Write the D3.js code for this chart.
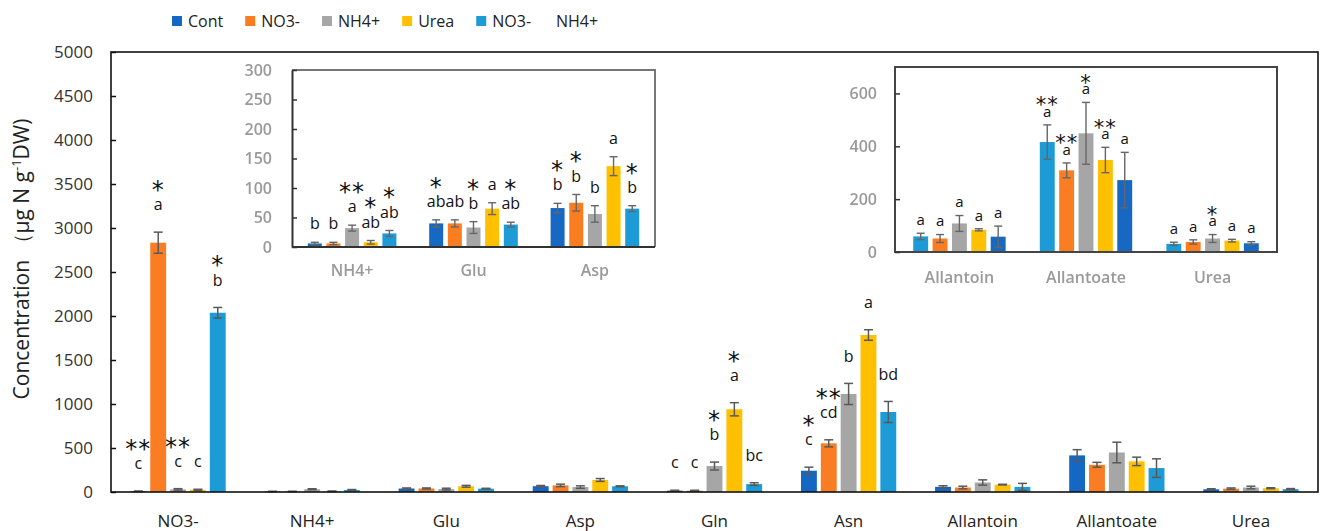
<!DOCTYPE html>
<html>
<head>
<meta charset="utf-8">
<script src="https://cdn.jsdelivr.net/npm/d3@7"></script>
<style>
  body { margin: 0; background: #fff; }
  svg { display: block; font-family: "Open Sans", "Noto Sans", sans-serif; }
</style>
</head>
<body>
<svg id="chart" width="1324" height="531"></svg>
<script>
// ---- data -------------------------------------------------------------
const categories = ["NO3-", "NH4+", "Glu", "Asp", "Gln", "Asn", "Allantoin", "Allantoate", "Urea"];
const legendLabels = ["Cont", "NO3-", "NH4+", "Urea", "NO3-\u00a0\u00a0\u00a0\u00a0\u00a0\u00a0NH4+"];

// mean concentration (µg N g-1 DW) per treatment, in category order
const contVals = [8, 6, 40, 66, 15, 242, 59, 416, 31];
const no3Vals  = [2833, 6, 40, 75, 15, 553, 51, 309, 38];
const nh4Vals  = [30, 32, 33, 56, 295, 1114, 108, 449, 51];
const ureaVals = [25, 8, 65, 137, 940, 1784, 84, 348, 43];
const mixVals  = [2037, 23, 38, 65, 90, 909, 58, 272, 33];

// standard errors
const contErr = [3, 2, 6, 8, 5, 40, 12, 65, 6];
const no3Err  = [120, 2, 6, 14, 5, 40, 15, 28, 8];
const nh4Err  = [8, 5, 10, 14, 45, 120, 30, 117, 15];
const ureaErr = [6, 3, 10, 16, 75, 60, 4, 48, 5];
const mixErr  = [60, 5, 4, 5, 15, 120, 40, 105, 6];

// significance letters and asterisks
const contLetters = ["c", "b", "ab", "b", "c", "c", "a", "a", "a"];
const no3Letters  = ["a", "b", "ab", "b", "c", "cd", "a", "a", "a"];
const nh4Letters  = ["c", "a", "b", "b", "b", "b", "a", "a", "a"];
const ureaLetters = ["c", "ab", "a", "a", "a", "a", "a", "a", "a"];
const mixLetters  = ["b", "ab", "ab", "b", "bc", "bd", "a", "a", "a"];

const contStars = ["**", "", "*", "*", "", "*", "", "**", ""];
const no3Stars  = ["*", "", "", "*", "", "**", "", "**", ""];
const nh4Stars  = ["**", "**", "*", "", "*", "", "", "*", "*"];
const ureaStars = ["", "*", "", "", "*", "**", "", "**", ""];
const mixStars  = ["*", "*", "*", "*", "", "", "", "", ""];

// axis ticks
const mainTicks = [0, 500, 1000, 1500, 2000, 2500, 3000, 3500, 4000, 4500, 5000];
const inset1Ticks = [0, 50, 100, 150, 200, 250, 300];
const inset2Ticks = [0, 200, 400, 600];

// which categories get annotated in which panel
const mainCats = ["NO3-", "Gln", "Asn"];
const inset1Cats = ["NH4+", "Glu", "Asp"];
const inset2Cats = ["Allantoin", "Allantoate", "Urea"];

// ---- styling ----------------------------------------------------------
const colors = ["#1467c2", "#fb7d23", "#a6a6a6", "#ffc000", "#1d9bd7"];
// the allantoin/allantoate/urea inset swaps the two blues
const inset2Colors = ["#1d9bd7", "#fb7d23", "#a6a6a6", "#ffc000", "#1467c2"];

const series = [
  { vals: contVals, errs: contErr, letters: contLetters, stars: contStars },
  { vals: no3Vals,  errs: no3Err,  letters: no3Letters,  stars: no3Stars },
  { vals: nh4Vals,  errs: nh4Err,  letters: nh4Letters,  stars: nh4Stars },
  { vals: ureaVals, errs: ureaErr, letters: ureaLetters, stars: ureaStars },
  { vals: mixVals,  errs: mixErr,  letters: mixLetters,  stars: mixStars }
];

const fmt = d3.format("d");
const svg = d3.select("#chart");
const defs = svg.append("defs");
defs.append("filter").attr("id", "soft")
  .attr("x", "-5%").attr("y", "-5%").attr("width", "110%").attr("height", "110%")
  .append("feGaussianBlur").attr("stdDeviation", 0.6);

// ---- helpers ----------------------------------------------------------
function drawBars(g, cats, x0, x1, y, cols, errStyle) {
  const rows = [];
  cats.forEach(c => {
    const ci = categories.indexOf(c);
    series.forEach((s, si) => rows.push({ c, ci, si, v: s.vals[ci], e: s.errs[ci] }));
  });
  g.append("g").selectAll("rect").data(rows).join("rect")
    .attr("x", d => x0(d.c) + x1(d.si))
    .attr("y", d => y(d.v))
    .attr("width", x1.bandwidth())
    .attr("height", d => y(0) - y(d.v))
    .attr("fill", d => cols[d.si]);

  const eg = g.append("g").attr("stroke", errStyle.color).attr("stroke-width", errStyle.width).attr("fill", "none");
  const cx = d => x0(d.c) + x1(d.si) + x1.bandwidth() / 2;
  eg.selectAll("line.v").data(rows).join("line").attr("class", "v")
    .attr("x1", cx).attr("x2", cx)
    .attr("y1", d => y(Math.max(0, d.v - d.e))).attr("y2", d => y(d.v + d.e));
  eg.selectAll("line.t").data(rows).join("line").attr("class", "t")
    .attr("x1", d => cx(d) - errStyle.cap).attr("x2", d => cx(d) + errStyle.cap)
    .attr("y1", d => y(d.v + d.e)).attr("y2", d => y(d.v + d.e));
  eg.selectAll("line.b").data(rows.filter(d => d.v - d.e > 0)).join("line").attr("class", "b")
    .attr("x1", d => cx(d) - errStyle.cap).attr("x2", d => cx(d) + errStyle.cap)
    .attr("y1", d => y(d.v - d.e)).attr("y2", d => y(d.v - d.e));
}

function drawMarks(g, cats, x0, x1, y, opt) {
  const rows = [];
  cats.forEach(c => {
    const ci = categories.indexOf(c);
    series.forEach((s, si) => rows.push({ c, ci, si, v: s.vals[ci], e: s.errs[ci], L: s.letters[ci], S: s.stars[ci] }));
  });
  const cx = d => x0(d.c) + x1(d.si) + x1.bandwidth() / 2;
  const ly = d => y(d.v + d.e) - opt.letterGap;
  g.append("g").selectAll("text").data(rows.filter(d => d.L)).join("text")
    .attr("x", cx).attr("y", ly).attr("dy", "0.32em")
    .attr("text-anchor", "middle")
    .attr("font-size", opt.letterSize).attr("fill", "#111")
    .text(d => d.L);
  g.append("g").selectAll("text").data(rows.filter(d => d.S)).join("text")
    .attr("x", cx).attr("y", d => ly(d) - opt.starGap).attr("dy", "0.58em")
    .attr("text-anchor", "middle")
    .attr("font-family", "DejaVu Sans")
    .attr("font-size", opt.starSize).attr("fill", "#111")
    .attr("letter-spacing", "1px")
    .text(d => d.S);
}

// ---- main chart -------------------------------------------------------
const L = 111, R = 1318, T = 52, B = 492;
const x0 = d3.scaleBand().domain(categories).range([L, R]).paddingInner(0.26).paddingOuter(0.13);
const x1 = d3.scaleBand().domain(d3.range(series.length)).range([0, x0.bandwidth()]).paddingInner(0.2).paddingOuter(0.1);
const y = d3.scaleLinear().domain([0, 5000]).range([B, T]);

const main = svg.append("g");
drawBars(main, categories, x0, x1, y, colors, { color: "#595959", width: 1.5, cap: 4.5 });

main.append("g").attr("transform", `translate(${L},0)`)
  .call(d3.axisLeft(y).tickValues(mainTicks).tickFormat(fmt).tickSizeInner(-5).tickSizeOuter(0).tickPadding(18))
  .call(g => g.select(".domain").remove())
  .call(g => g.selectAll(".tick line").attr("stroke", "#111").attr("stroke-width", 1.5))
  .call(g => g.selectAll(".tick text").attr("font-family", "Open Sans").attr("font-size", 17).attr("fill", "#333"));

main.append("rect").attr("x", L).attr("y", T).attr("width", R - L).attr("height", B - T)
  .attr("fill", "none").attr("stroke", "#111").attr("stroke-width", 1.6);

main.append("g").selectAll("text").data(categories).join("text")
  .attr("x", d => x0(d) + x0.bandwidth() / 2).attr("y", 527)
  .attr("text-anchor", "middle").attr("font-size", 17).attr("fill", "#222")
  .text(d => d);

drawMarks(main, mainCats, x0, x1, y, { letterGap: 27, starGap: 21, letterSize: 16, starSize: 24 });

// y axis title
const title = svg.append("text")
  .attr("transform", "translate(29,259) rotate(-90)")
  .attr("text-anchor", "middle").attr("font-size", 21).attr("fill", "#222");
title.append("tspan").text("Concentration \uFF08\u03BCg N g");
title.append("tspan").attr("font-size", 13).attr("dy", -8).text("-1");
title.append("tspan").attr("dy", 8).text("DW)");

// legend
const legend = svg.append("g").attr("transform", "translate(172,21)");
let lx = 0;
legendLabels.forEach((name, i) => {
  const item = legend.append("g").attr("transform", `translate(${lx},0)`);
  item.append("rect").attr("x", 0).attr("y", -5).attr("width", 10).attr("height", 10).attr("fill", colors[i]);
  const t = item.append("text").attr("x", 16).attr("dy", "0.36em").attr("font-size", 16).attr("fill", "#222").text(name);
  lx += 16 + t.node().getComputedTextLength() + 22;
});

// ---- inset: NH4+, Glu, Asp --------------------------------------------
{
  const iL = 292, iR = 655, iT = 70, iB = 247;
  const ix0 = d3.scaleBand().domain(inset1Cats).range([iL, iR]).paddingInner(0.27).paddingOuter(0.13);
  const ix1 = d3.scaleBand().domain(d3.range(series.length)).range([0, ix0.bandwidth()]).paddingInner(0.25).paddingOuter(0);
  const iy = d3.scaleLinear().domain([0, 300]).range([iB, iT]);
  const g = svg.append("g");
  const soft = g.append("g").attr("filter", "url(#soft)");
  soft.append("rect").attr("x", 232).attr("y", 58).attr("width", 430).attr("height", 228).attr("fill", "#fff");
  drawBars(soft, inset1Cats, ix0, ix1, iy, colors, { color: "#666", width: 1.4, cap: 4 });
  soft.append("path").attr("d", `M${iL},${iT}H${iR}V${iB}`).attr("fill", "none").attr("stroke", "#777").attr("stroke-width", 2);
  soft.append("g").attr("transform", `translate(${iL},0)`)
    .call(d3.axisLeft(iy).tickValues(inset1Ticks).tickFormat(fmt).tickSizeInner(-5).tickSizeOuter(0).tickPadding(20))
    .call(a => a.select(".domain").attr("stroke", "#333").attr("stroke-width", 2))
    .call(a => a.selectAll(".tick line").attr("stroke", "#333").attr("stroke-width", 1.5))
    .call(a => a.selectAll(".tick text").attr("font-family", "Open Sans").attr("font-weight", 600).attr("font-size", 16).attr("fill", "#9a9a9a"));
  soft.append("line").attr("x1", iL).attr("x2", iR).attr("y1", iB).attr("y2", iB).attr("stroke", "#333").attr("stroke-width", 2);
  soft.append("g").selectAll("text").data(inset1Cats).join("text")
    .attr("x", d => ix0(d) + ix0.bandwidth() / 2).attr("y", 276)
    .attr("text-anchor", "middle").attr("font-size", 16).attr("font-weight", 600).attr("fill", "#9a9a9a")
    .text(d => d);
  drawMarks(g, inset1Cats, ix0, ix1, iy, { letterGap: 18, starGap: 21, letterSize: 16, starSize: 24 });
}

// ---- inset: Allantoin, Allantoate, Urea --------------------------------
{
  const jL = 895, jR = 1277, jT = 67, jB = 252;
  const jx0 = d3.scaleBand().domain(inset2Cats).range([jL, jR]).paddingInner(0.27).paddingOuter(0.144);
  const jx1 = d3.scaleBand().domain(d3.range(series.length)).range([0, jx0.bandwidth()]).paddingInner(0.23).paddingOuter(0);
  const jy = d3.scaleLinear().domain([0, 700]).range([jB, jT]);
  const g = svg.append("g");
  const soft = g.append("g").attr("filter", "url(#soft)");
  soft.append("rect").attr("x", 842).attr("y", 58).attr("width", 442).attr("height", 235).attr("fill", "#fff");
  drawBars(soft, inset2Cats, jx0, jx1, jy, inset2Colors, { color: "#666", width: 1.4, cap: 4 });
  soft.append("rect").attr("x", jL).attr("y", jT).attr("width", jR - jL).attr("height", jB - jT)
    .attr("fill", "none").attr("stroke", "#444").attr("stroke-width", 2);
  soft.append("g").attr("transform", `translate(${jL},0)`)
    .call(d3.axisLeft(jy).tickValues(inset2Ticks).tickFormat(fmt).tickSizeInner(-5).tickSizeOuter(0).tickPadding(18))
    .call(a => a.select(".domain").remove())
    .call(a => a.selectAll(".tick line").attr("stroke", "#333").attr("stroke-width", 1.5))
    .call(a => a.selectAll(".tick text").attr("font-family", "Open Sans").attr("font-weight", 600).attr("font-size", 16).attr("fill", "#9a9a9a"));
  soft.append("g").selectAll("text").data(inset2Cats).join("text")
    .attr("x", d => jx0(d) + jx0.bandwidth() / 2).attr("y", 283)
    .attr("text-anchor", "middle").attr("font-size", 16).attr("font-weight", 600).attr("fill", "#9a9a9a")
    .text(d => d);
  drawMarks(g, inset2Cats, jx0, jx1, jy, { letterGap: 13, starGap: 12, letterSize: 15, starSize: 21 });
}
</script>
</body>
</html>
